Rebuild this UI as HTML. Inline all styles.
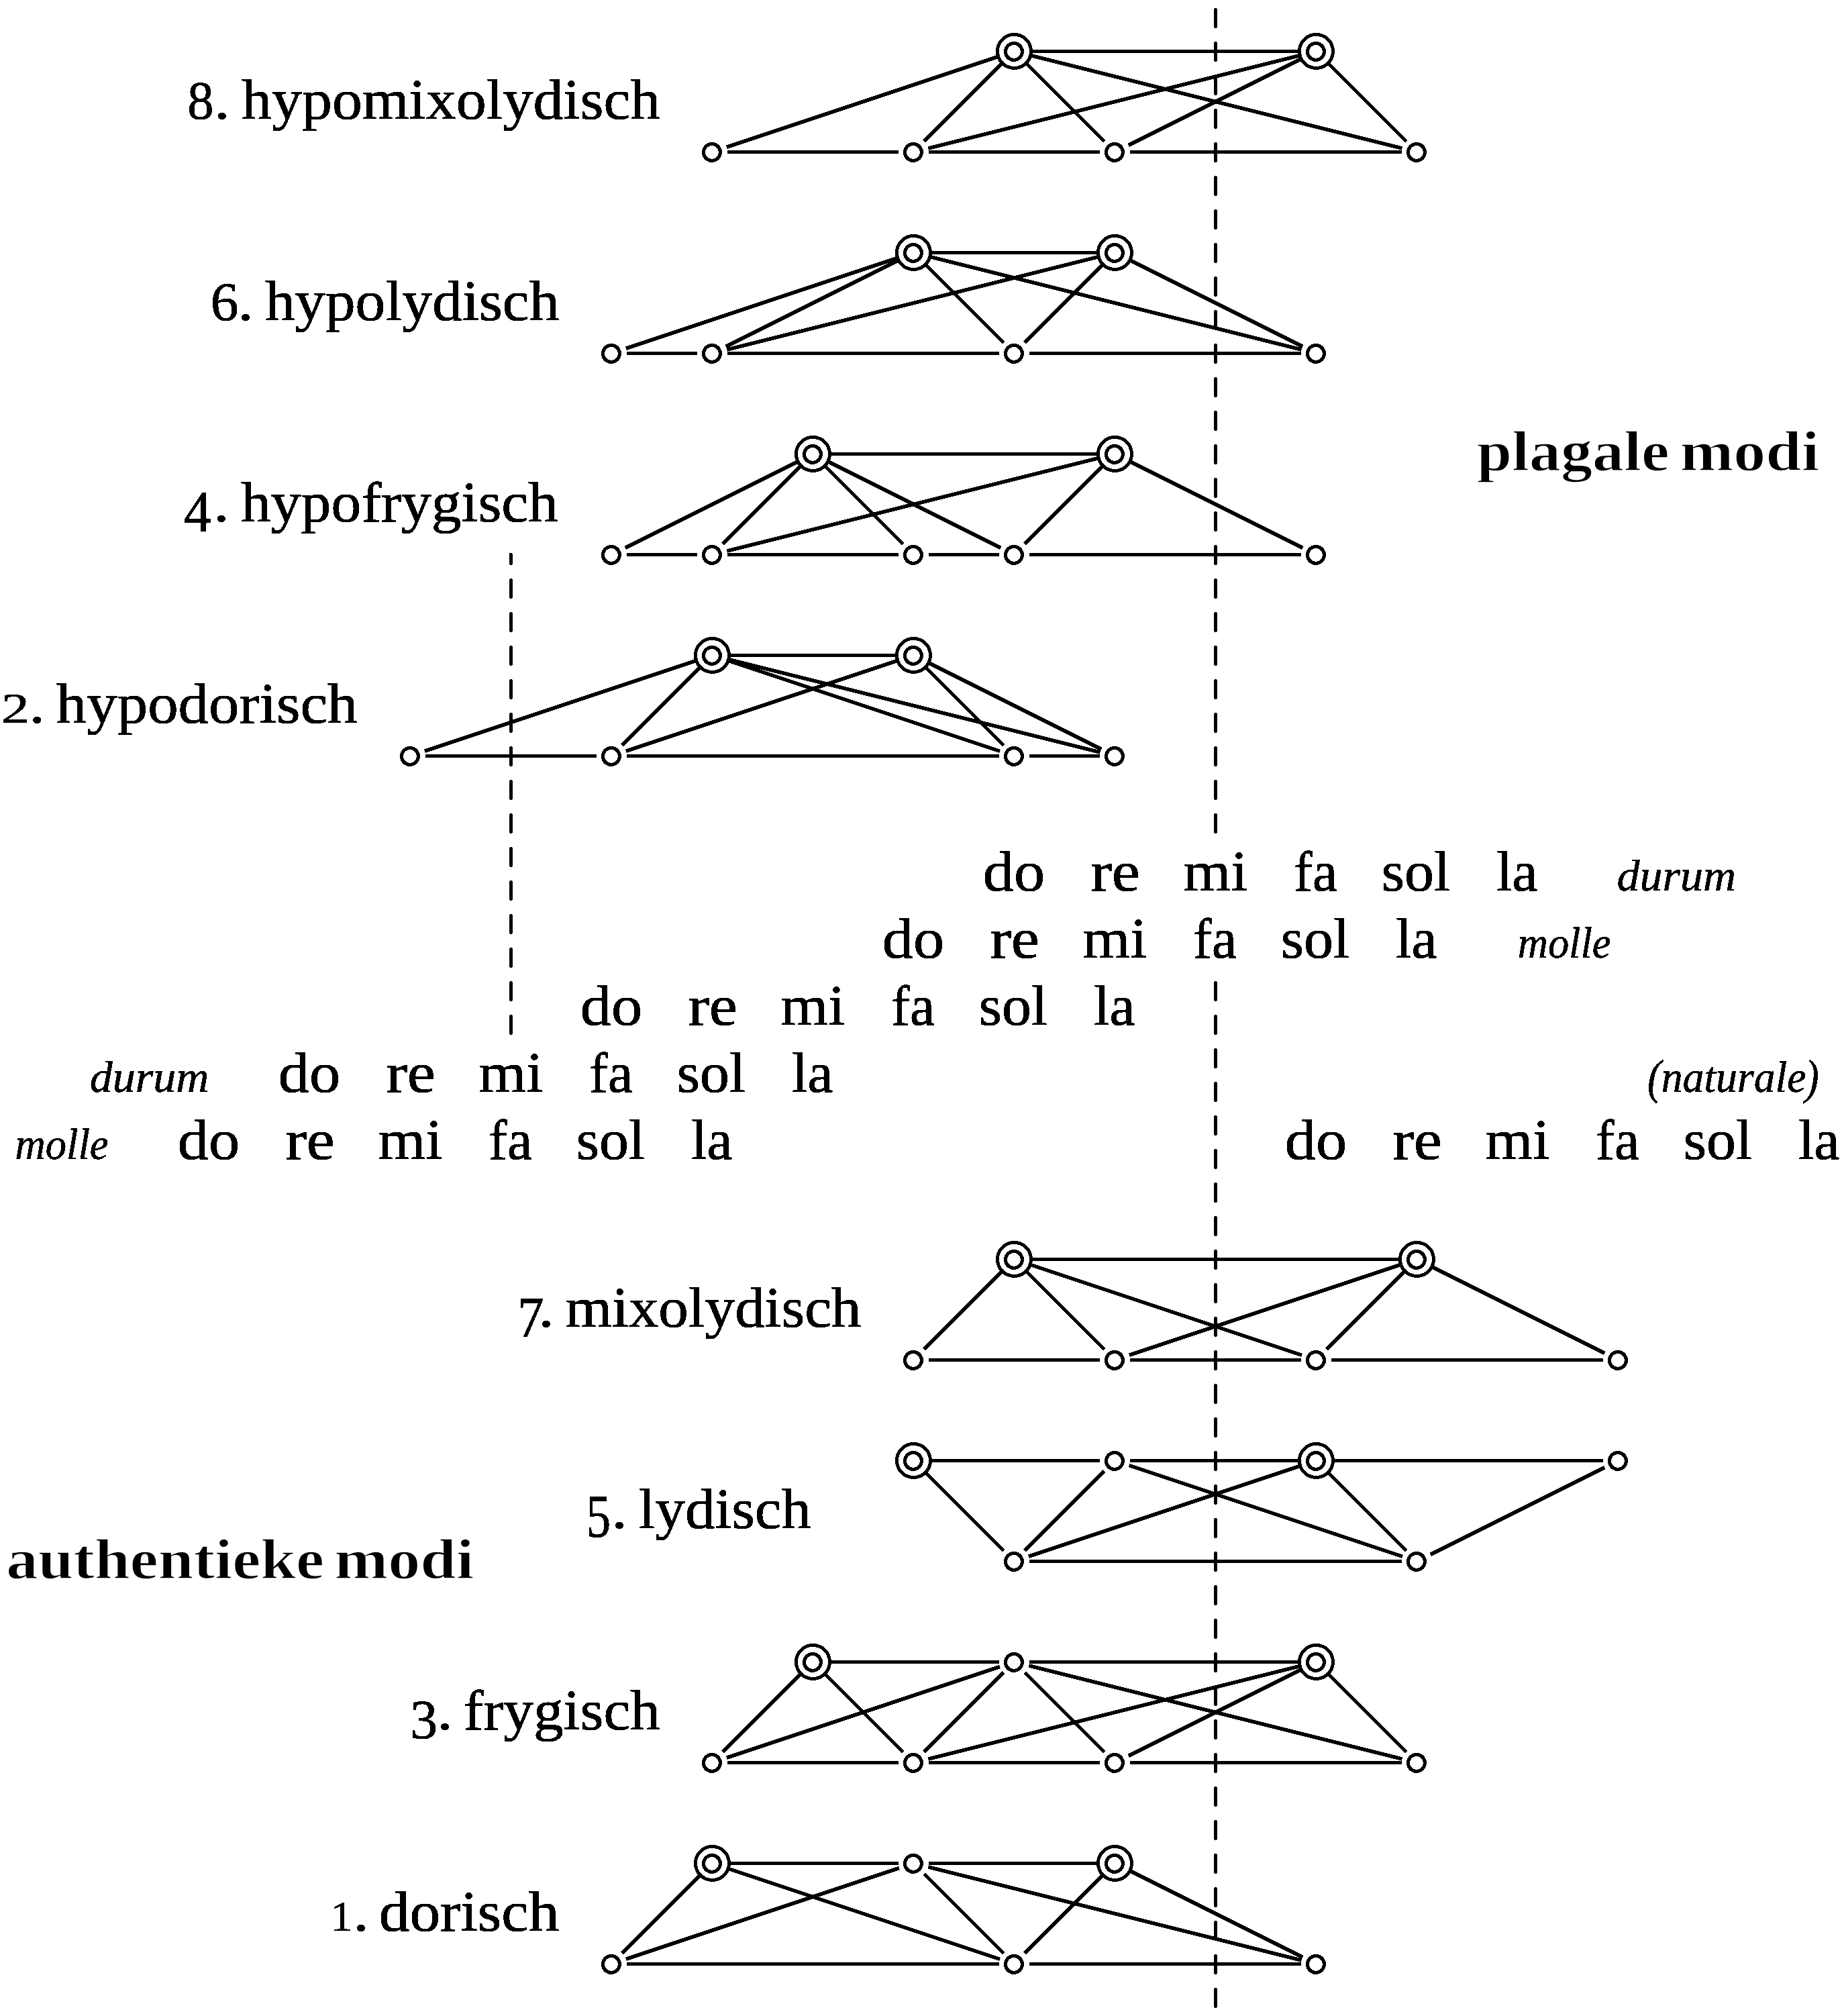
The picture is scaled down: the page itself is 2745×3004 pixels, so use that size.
<!DOCTYPE html>
<html><head><meta charset="utf-8"><style>
html,body{margin:0;padding:0;background:#fff}
svg{display:block}
text{font-family:"Liberation Serif",serif;fill:#000}.r{font-size:85px;stroke:#000;stroke-width:0.9px}.b{font-size:85px;font-weight:bold;stroke:#fff;stroke-width:1.4px}.i{font-size:65px;font-style:italic;stroke:#000;stroke-width:0.6px}
</style></head><body>
<svg width="2745" height="3004" viewBox="0 0 2745 3004" shape-rendering="crispEdges">
<rect width="2745" height="3004" fill="#fff"/>
<defs><filter id="bin" x="0" y="0" width="100%" height="100%" filterUnits="userSpaceOnUse"><feComponentTransfer><feFuncA type="discrete" tableValues="0 1"/></feComponentTransfer></filter></defs>
<g transform="translate(-0.05 -0.05)">
<path d="M1811.5 14.4V1239.4" stroke="#000" stroke-width="5" stroke-linecap="round" stroke-dasharray="25 25" fill="none"/>
<path d="M1811.5 1464.4V2989.4" stroke="#000" stroke-width="5" stroke-linecap="round" stroke-dasharray="25 25" fill="none"/>
<path d="M761.5 826.3V1539.4" stroke="#000" stroke-width="5" stroke-linecap="round" stroke-dasharray="25 25" stroke-dashoffset="11.9" fill="none"/>
<path transform="translate(0.5 -0.5)" d="M1533.5 77L1938.5 77M1083.5 227L1338.5 227M1383.5 227L1638.5 227M1683.5 227L2088.5 227M1082.35 219.88L1489.65 84.12M1376.91 211.09L1495.09 92.91M1526.91 92.91L1645.09 211.09M1532.83 82.46L2089.17 221.54M1382.83 221.54L1939.17 82.46M1681.12 216.94L1940.88 87.06M1976.91 92.91L2095.09 211.09M1383.5 377L1638.5 377M933.5 527L1038.5 527M1083.5 527L1488.5 527M1533.5 527L1938.5 527M932.35 519.88L1339.65 384.12M1081.12 516.94L1340.88 387.06M1082.83 521.54L1639.17 382.46M1376.91 392.91L1495.09 511.09M1382.83 382.46L1939.17 521.54M1645.09 392.91L1526.91 511.09M1681.12 387.06L1940.88 516.94M1233.5 677L1638.5 677M933.5 827L1038.5 827M1083.5 827L1338.5 827M1383.5 827L1488.5 827M1533.5 827L1938.5 827M931.12 816.94L1190.88 687.06M1076.91 811.09L1195.09 692.91M1226.91 692.91L1345.09 811.09M1231.12 687.06L1490.88 816.94M1082.83 821.54L1639.17 682.46M1645.09 692.91L1526.91 811.09M1681.12 687.06L1940.88 816.94M1083.5 977L1338.5 977M633.5 1127L888.5 1127M933.5 1127L1488.5 1127M1533.5 1127L1638.5 1127M632.35 1119.88L1039.65 984.12M926.91 1111.09L1045.09 992.91M932.35 1119.88L1339.65 984.12M1082.35 984.12L1489.65 1119.88M1082.83 982.46L1639.17 1121.54M1376.91 992.91L1495.09 1111.09M1381.12 987.06L1640.88 1116.94M1533.5 1877L2088.5 1877M1383.5 2027L1638.5 2027M1683.5 2027L1938.5 2027M1983.5 2027L2388.5 2027M1376.91 2011.09L1495.09 1892.91M1526.91 1892.91L1645.09 2011.09M1532.35 1884.12L1939.65 2019.88M1682.35 2019.88L2089.65 1884.12M1976.91 2011.09L2095.09 1892.91M2131.12 1887.06L2390.88 2016.94M1383.5 2177L1638.5 2177M1683.5 2177L1938.5 2177M1983.5 2177L2388.5 2177M1533.5 2327L2088.5 2327M1376.91 2192.91L1495.09 2311.09M1526.91 2311.09L1645.09 2192.91M1532.35 2319.88L1939.65 2184.12M1682.35 2184.12L2089.65 2319.88M1976.91 2192.91L2095.09 2311.09M2131.12 2316.94L2390.88 2187.06M1233.5 2477L1488.5 2477M1533.5 2477L1938.5 2477M1083.5 2627L1338.5 2627M1383.5 2627L1638.5 2627M1683.5 2627L2088.5 2627M1076.91 2611.09L1195.09 2492.91M1082.35 2619.88L1489.65 2484.12M1226.91 2492.91L1345.09 2611.09M1376.91 2611.09L1495.09 2492.91M1382.83 2621.54L1939.17 2482.46M1526.91 2492.91L1645.09 2611.09M1532.83 2482.46L2089.17 2621.54M1681.12 2616.94L1940.88 2487.06M1976.91 2492.91L2095.09 2611.09M1083.5 2777L1338.5 2777M1383.5 2777L1638.5 2777M933.5 2927L1488.5 2927M1533.5 2927L1938.5 2927M926.91 2911.09L1045.09 2792.91M932.35 2919.88L1339.65 2784.12M1082.35 2784.12L1489.65 2919.88M1376.91 2792.91L1495.09 2911.09M1382.83 2782.46L1939.17 2921.54M1645.09 2792.91L1526.91 2911.09M1681.12 2787.06L1940.88 2916.94" fill="none" stroke="#000" stroke-width="5.6"/>
<g fill="none" stroke="#000" stroke-width="5.0"><circle cx="1511.5" cy="76.5" r="25.0"/><circle cx="1511" cy="77" r="12.5"/><circle cx="1961.5" cy="76.5" r="25.0"/><circle cx="1961" cy="77" r="12.5"/><circle cx="1061" cy="227" r="12.5"/><circle cx="1361" cy="227" r="12.5"/><circle cx="1661" cy="227" r="12.5"/><circle cx="2111" cy="227" r="12.5"/><circle cx="1361.5" cy="376.5" r="25.0"/><circle cx="1361" cy="377" r="12.5"/><circle cx="1661.5" cy="376.5" r="25.0"/><circle cx="1661" cy="377" r="12.5"/><circle cx="911" cy="527" r="12.5"/><circle cx="1061" cy="527" r="12.5"/><circle cx="1511" cy="527" r="12.5"/><circle cx="1961" cy="527" r="12.5"/><circle cx="1211.5" cy="676.5" r="25.0"/><circle cx="1211" cy="677" r="12.5"/><circle cx="1661.5" cy="676.5" r="25.0"/><circle cx="1661" cy="677" r="12.5"/><circle cx="911" cy="827" r="12.5"/><circle cx="1061" cy="827" r="12.5"/><circle cx="1361" cy="827" r="12.5"/><circle cx="1511" cy="827" r="12.5"/><circle cx="1961" cy="827" r="12.5"/><circle cx="1061.5" cy="976.5" r="25.0"/><circle cx="1061" cy="977" r="12.5"/><circle cx="1361.5" cy="976.5" r="25.0"/><circle cx="1361" cy="977" r="12.5"/><circle cx="611" cy="1127" r="12.5"/><circle cx="911" cy="1127" r="12.5"/><circle cx="1511" cy="1127" r="12.5"/><circle cx="1661" cy="1127" r="12.5"/><circle cx="1511.5" cy="1876.5" r="25.0"/><circle cx="1511" cy="1877" r="12.5"/><circle cx="2111.5" cy="1876.5" r="25.0"/><circle cx="2111" cy="1877" r="12.5"/><circle cx="1361" cy="2027" r="12.5"/><circle cx="1661" cy="2027" r="12.5"/><circle cx="1961" cy="2027" r="12.5"/><circle cx="2411" cy="2027" r="12.5"/><circle cx="1361.5" cy="2176.5" r="25.0"/><circle cx="1361" cy="2177" r="12.5"/><circle cx="1661" cy="2177" r="12.5"/><circle cx="1961.5" cy="2176.5" r="25.0"/><circle cx="1961" cy="2177" r="12.5"/><circle cx="2411" cy="2177" r="12.5"/><circle cx="1511" cy="2327" r="12.5"/><circle cx="2111" cy="2327" r="12.5"/><circle cx="1211.5" cy="2476.5" r="25.0"/><circle cx="1211" cy="2477" r="12.5"/><circle cx="1511" cy="2477" r="12.5"/><circle cx="1961.5" cy="2476.5" r="25.0"/><circle cx="1961" cy="2477" r="12.5"/><circle cx="1061" cy="2627" r="12.5"/><circle cx="1361" cy="2627" r="12.5"/><circle cx="1661" cy="2627" r="12.5"/><circle cx="2111" cy="2627" r="12.5"/><circle cx="1061.5" cy="2776.5" r="25.0"/><circle cx="1061" cy="2777" r="12.5"/><circle cx="1361" cy="2777" r="12.5"/><circle cx="1661.5" cy="2776.5" r="25.0"/><circle cx="1661" cy="2777" r="12.5"/><circle cx="911" cy="2927" r="12.5"/><circle cx="1511" cy="2927" r="12.5"/><circle cx="1961" cy="2927" r="12.5"/></g>
</g>
<g filter="url(#bin)">
<text class="r" transform="translate(279.13 176.66) scale(0.9243 0.9448)">8</text>
<text class="r" transform="translate(319.35 177) scale(1.0909 1)">.</text>
<text class="r" transform="translate(360.1 177) scale(1.0575 1)">hypomixolydisch</text>
<text class="r" transform="translate(313.85 476.66) scale(0.9838 0.9448)">6</text>
<text class="r" transform="translate(354.15 477) scale(1.1091 1)">.</text>
<text class="r" transform="translate(395 477) scale(1.0554 1)">hypolydisch</text>
<text class="r" transform="translate(274.03 790.7) scale(0.9707 1.0089)">4</text>
<text class="r" transform="translate(318.35 777) scale(1.0909 1)">.</text>
<text class="r" transform="translate(359 777) scale(1.0545 1)">hypofrygisch</text>
<text class="r" transform="translate(1.95 1077) scale(0.9829 0.7421)">2</text>
<text class="r" transform="translate(43.4 1077) scale(1.1000 1)">.</text>
<text class="r" transform="translate(83.8 1077) scale(1.0695 1)">hypodorisch</text>
<text class="r" transform="translate(771.06 1991.7) scale(0.9278 1.0179)">7</text>
<text class="r" transform="translate(802.3 1977) scale(1.1000 1)">.</text>
<text class="r" transform="translate(842.75 1977) scale(1.0482 1)">mixolydisch</text>
<text class="r" transform="translate(873.63 2289.63) scale(0.8543 1.0667)">5</text>
<text class="r" transform="translate(911.15 2277) scale(1.1091 1)">.</text>
<text class="r" transform="translate(951.75 2277) scale(1.0471 1)">lydisch</text>
<text class="r" transform="translate(611.12 2589.73) scale(0.9694 0.9655)">3</text>
<text class="r" transform="translate(651.15 2577) scale(1.1091 1)">.</text>
<text class="r" transform="translate(690.69 2577) scale(1.0525 1)">frygisch</text>
<text class="r" transform="translate(492.44 2877) scale(0.7806 0.7554)">1</text>
<text class="r" transform="translate(526.35 2877) scale(1.1091 1)">.</text>
<text class="r" transform="translate(564.78 2877) scale(1.0741 1)">dorisch</text>
<text class="b" transform="translate(2200.79 701) scale(1.1051 1)">plagale</text>
<text class="b" transform="translate(2503.41 701) scale(1.1291 1)">modi</text>
<text class="b" transform="translate(9.24 2352) scale(1.1153 1)">authentieke</text>
<text class="b" transform="translate(498.21 2352) scale(1.1307 1)">modi</text>
<text class="i" transform="translate(2409.51 1327) scale(1.0461 1)">durum</text>
<text class="i" transform="translate(2261.78 1427) scale(0.9610 1)">molle</text>
<text class="i" transform="translate(133.71 1627) scale(1.0467 1)">durum</text>
<text class="i" transform="translate(2455.22 1629.09) scale(0.9391 1.1150)">(</text>
<text class="i" transform="translate(2475.74 1627) scale(0.9797 1)">naturale</text>
<text class="i" transform="translate(2690.3 1629.09) scale(0.9348 1.1150)">)</text>
<text class="i" transform="translate(22.47 1727) scale(0.9638 1)">molle</text>
<text class="r" transform="translate(1464.73 1327) scale(1.0886 1)">do</text>
<text class="r" transform="translate(1625.28 1327) scale(1.1161 1)">re</text>
<text class="r" transform="translate(1763.18 1327) scale(1.0747 1)">mi</text>
<text class="r" transform="translate(1928.08 1327) scale(0.9825 1)">fa</text>
<text class="r" transform="translate(2058.75 1327) scale(1.0347 1)">sol</text>
<text class="r" transform="translate(2229.9 1327) scale(1.0033 1)">la</text>
<text class="r" transform="translate(1314.73 1427) scale(1.0886 1)">do</text>
<text class="r" transform="translate(1475.28 1427) scale(1.1161 1)">re</text>
<text class="r" transform="translate(1613.18 1427) scale(1.0747 1)">mi</text>
<text class="r" transform="translate(1778.08 1427) scale(0.9825 1)">fa</text>
<text class="r" transform="translate(1908.75 1427) scale(1.0347 1)">sol</text>
<text class="r" transform="translate(2079.9 1427) scale(1.0033 1)">la</text>
<text class="r" transform="translate(864.73 1527) scale(1.0886 1)">do</text>
<text class="r" transform="translate(1025.28 1527) scale(1.1161 1)">re</text>
<text class="r" transform="translate(1163.18 1527) scale(1.0747 1)">mi</text>
<text class="r" transform="translate(1328.08 1527) scale(0.9825 1)">fa</text>
<text class="r" transform="translate(1458.75 1527) scale(1.0347 1)">sol</text>
<text class="r" transform="translate(1629.9 1527) scale(1.0033 1)">la</text>
<text class="r" transform="translate(414.73 1627) scale(1.0886 1)">do</text>
<text class="r" transform="translate(575.28 1627) scale(1.1161 1)">re</text>
<text class="r" transform="translate(713.18 1627) scale(1.0747 1)">mi</text>
<text class="r" transform="translate(878.08 1627) scale(0.9825 1)">fa</text>
<text class="r" transform="translate(1008.75 1627) scale(1.0347 1)">sol</text>
<text class="r" transform="translate(1179.9 1627) scale(1.0033 1)">la</text>
<text class="r" transform="translate(264.73 1727) scale(1.0886 1)">do</text>
<text class="r" transform="translate(425.28 1727) scale(1.1161 1)">re</text>
<text class="r" transform="translate(563.18 1727) scale(1.0747 1)">mi</text>
<text class="r" transform="translate(728.08 1727) scale(0.9825 1)">fa</text>
<text class="r" transform="translate(858.75 1727) scale(1.0347 1)">sol</text>
<text class="r" transform="translate(1029.9 1727) scale(1.0033 1)">la</text>
<text class="r" transform="translate(1914.73 1727) scale(1.0886 1)">do</text>
<text class="r" transform="translate(2075.28 1727) scale(1.1161 1)">re</text>
<text class="r" transform="translate(2213.18 1727) scale(1.0747 1)">mi</text>
<text class="r" transform="translate(2378.08 1727) scale(0.9825 1)">fa</text>
<text class="r" transform="translate(2508.75 1727) scale(1.0347 1)">sol</text>
<text class="r" transform="translate(2679.9 1727) scale(1.0033 1)">la</text>
</g>
</svg>
</body></html>
